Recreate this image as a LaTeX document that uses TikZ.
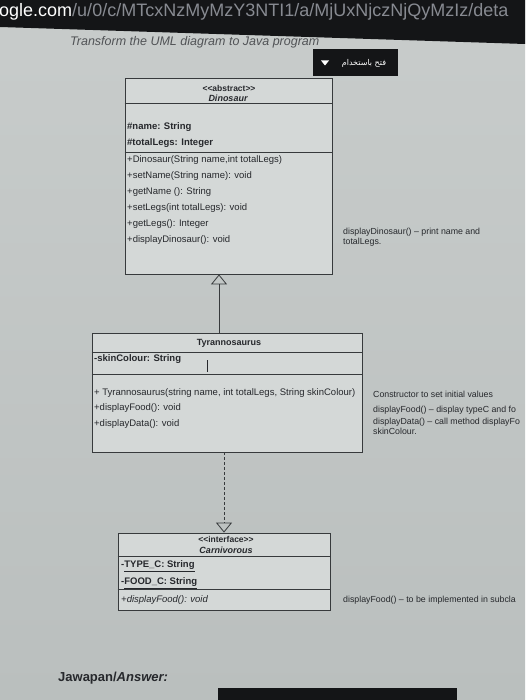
\documentclass[tikz,border=0pt]{standalone}
\usepackage{fontspec}
\setmainfont{Liberation Sans}
\newfontfamily\arabicfont[Script=Arabic]{DejaVu Sans}
\TeXXeTstate=1
\usetikzlibrary{arrows.meta}
\definecolor{screengray}{RGB}{200,204,203}
\definecolor{screenlow}{RGB}{186,191,190}
\definecolor{boxgray}{RGB}{212,216,215}
\definecolor{inkgray}{RGB}{38,40,44}
\definecolor{edgegray}{RGB}{55,58,60}
\definecolor{barblack}{RGB}{20,21,23}
\definecolor{urlgray}{RGB}{135,138,145}
\newcommand{\stereotype}[1]{<\kern0pt<#1>\kern0pt>}

\tikzset{
  classbox/.style={draw=edgegray,line width=0.8pt,fill=boxgray,inner sep=0pt},
  divider/.style={draw=edgegray,line width=0.8pt},
  member/.style={anchor=west,inner sep=0pt,text=inkgray,font=\fontsize{9.5}{11}\selectfont},
  field/.style={member,font=\fontsize{9.5}{11}\selectfont\bfseries},
  header/.style={inner sep=0pt,text=inkgray,font=\fontsize{9}{11}\selectfont\bfseries},
  note/.style={anchor=west,inner sep=0pt,align=left,text=inkgray,font=\fontsize{8.8}{10}\selectfont},
  inherit/.style={draw=edgegray,line width=0.8pt,-{Triangle[open,width=16pt,length=10pt]}},
}

\begin{document}
\begin{tikzpicture}[x=1pt,y=-1pt]
  % screen
  \useasboundingbox (0,0) rectangle (525,700);
  \clip (0,0) rectangle (525,700);
  \shade[top color=screengray,bottom color=screenlow] (0,0) rectangle (525,700);
  % task line and browser bar
  \node[anchor=west,inner sep=0pt,text=inkgray!80,font=\fontsize{12.5}{14}\selectfont\itshape] (task) at (70,42) {Transform the UML diagram to Java program};
  \fill[barblack] (0,0) -- (525,0) -- (525,44) -- (0,27) -- cycle;
  \node[anchor=west,inner sep=0pt,text=urlgray,font=\fontsize{18}{20}\selectfont] (url) at (-1,12) {\textcolor{white}{ogle.com}/u/0/c/MTcxNzMyMzY3NTI1/a/MjUxNjczNjQyMzIz/deta};
  % open-with button
  \node[fill=barblack,minimum width=85pt,minimum height=27pt,inner sep=0pt] (openbtn) at (355.5,63) {};
  \node[text=white,inner sep=0pt,font=\arabicfont\fontsize{8}{10}\selectfont] (openlbl) at (364,63) {\beginR فتح باستخدام\endR};
  \fill[white] (321,60.5) -- (329,60.5) -- (325,65.5) -- cycle;

  % Dinosaur
  \node[classbox,minimum width=207pt,minimum height=196pt] (dino) at (228.5,176) {};
  \draw[divider] (dino.north west) ++(0,26) -- ++(207,0);
  \draw[divider] (dino.north west) ++(0,75) -- ++(207,0);
  \node[header,font=\fontsize{8.5}{10}\selectfont\bfseries] (dinostereo) at (229,88) {\stereotype{abstract}};
  \node[header,font=\fontsize{9}{11}\selectfont\bfseries\itshape] (dinoname) at (228,98) {Dinosaur};
  \node[field] (dinoname-attr) at (127,127) {\#name: String};
  \node[field] (dinolegs-attr) at (127,143) {\#totalLegs: Integer};
  \node[member] (dinoctor) at (127,160) {+Dinosaur(String name,int totalLegs)};
  \node[member] (dinosetname) at (127,176) {+setName(String name): void};
  \node[member] (dinogetname) at (127,192) {+getName (): String};
  \node[member] (dinosetlegs) at (127,208) {+setLegs(int totalLegs): void};
  \node[member] (dinogetlegs) at (127,224) {+getLegs(): Integer};
  \node[member] (dinodisplay) at (127,240) {+displayDinosaur(): void};
  \node[note] (dinonote) at (343,237) {displayDinosaur() – print name and\\totalLegs.};

  % Tyrannosaurus
  \node[classbox,minimum width=270pt,minimum height=119pt] (tyr) at (227,392.5) {};
  \draw[divider] (tyr.north west) ++(0,20) -- ++(270,0);
  \draw[divider] (tyr.north west) ++(0,42) -- ++(270,0);
  \node[header] (tyrname) at (229,343.5) {Tyrannosaurus};
  \node[field] (tyrskin-attr) at (94,359) {-skinColour: String};
  \draw[inkgray,line width=0.7pt] (207,360) -- (207,372);
  \node[member] (tyrctor) at (94,393) {+ Tyrannosaurus(string name, int totalLegs, String skinColour)};
  \node[member] (tyrfood) at (94,408.5) {+displayFood(): void};
  \node[member] (tyrdata) at (94,424) {+displayData(): void};
  \node[note] (ctornote) at (373,394) {Constructor to set initial values};
  \node[note] (foodnote) at (373,410) {displayFood() – display typeC and fo};
  \node[note,anchor=north west] (datanote) at (373,418) {displayData() – call method displayFo\\skinColour.};

  % Carnivorous
  \node[classbox,minimum width=212pt,minimum height=77pt] (carn) at (224,571.5) {};
  \draw[divider] (carn.north west) ++(0,24) -- ++(212,0);
  \draw[divider] (carn.north west) ++(0,57) -- ++(212,0);
  \node[header,font=\fontsize{8.5}{10}\selectfont\bfseries] (carnstereo) at (226,539) {\stereotype{interface}};
  \node[header,font=\fontsize{9}{11}\selectfont\bfseries\itshape] (carnname) at (226,550) {Carnivorous};
  \node[field] (carntype-attr) at (121,566) {-\underline{TYPE\_C: String}};
  \node[field] (carnfood-attr) at (121,583) {-\underline{FOOD\_C: String}};
  \node[member,font=\fontsize{9.5}{11}\selectfont\itshape] (carnfood) at (121,600) {+displayFood(): void};
  \node[note] (carnnote) at (343,600) {displayFood() – to be implemented in subcla};

  % relations
  \draw[inherit] ([xshift=-8pt]tyr.north) -- ([xshift=-8pt]tyr.north |- dino.south);
  \draw[inherit,dash pattern=on 3pt off 2pt] (tyr.south -| carn.north) -- (carn.north);

  % answer line
  \node[anchor=west,inner sep=0pt,text=inkgray,font=\fontsize{13}{15}\selectfont\bfseries] (answer) at (58,678) {Jawapan/\textit{Answer:}};
  \fill[barblack] (218,688) rectangle (457,700);
\end{tikzpicture}
\end{document}
